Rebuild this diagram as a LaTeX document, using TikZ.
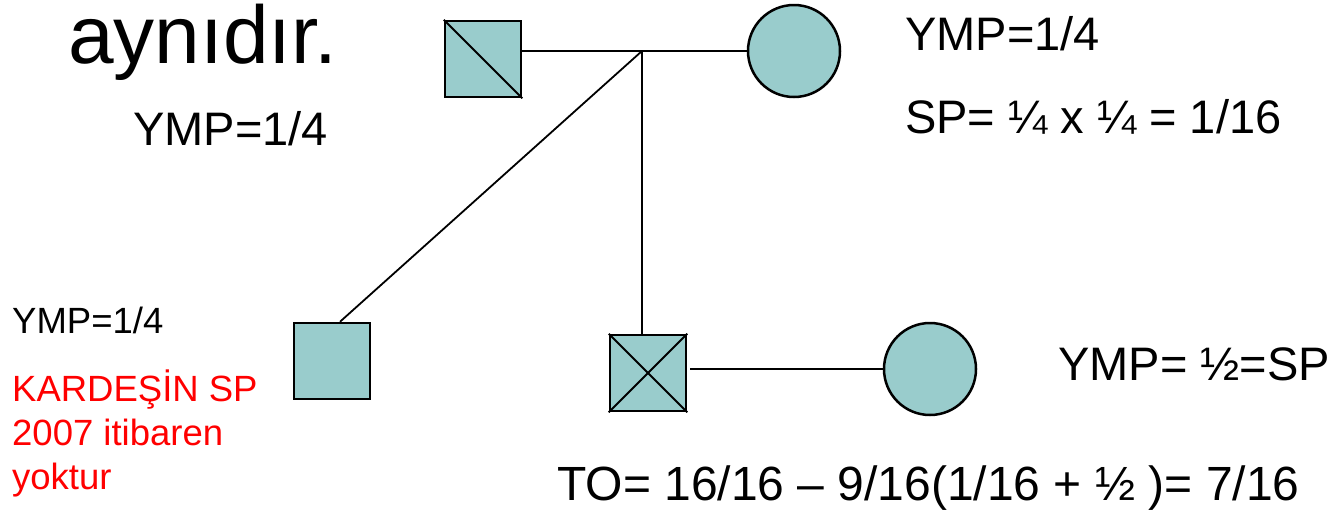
\documentclass[tikz,border=0pt]{standalone}
\usepackage{fontspec}
\setmainfont{Liberation Sans}
\usepackage{tikz}
\definecolor{pedfill}{RGB}{153,204,204}
\begin{document}
\begin{tikzpicture}[x=1pt,y=-1pt]
		\tikzstyle{male}=[draw,line width=2.5pt,rectangle,fill=pedfill,minimum size=76pt,inner sep=0pt]
		\tikzstyle{female}=[draw,line width=2.5pt,circle,fill=pedfill,minimum size=92pt,inner sep=0pt]
		\tikzstyle{big}=[anchor=base west,inner sep=0pt,font=\fontsize{47}{56}\selectfont]
		\tikzstyle{small}=[anchor=base west,inner sep=0pt,font=\fontsize{36.5}{44}\selectfont]
		\tikzstyle{link}=[line width=1.8pt]

		\useasboundingbox (0,0) rectangle (1333,515);

		% parents
		\node[male] (father) at (483,59) {};
		\node[female] (mother) at (794,51) {};
		\draw[line width=1.8pt] (father.north west) -- (father.south east);
		\coordinate (junc) at (642,51);

		% children
		\node[male] (sib) at (332,361) {};
		\node[male] (pat) at (648,373) {};
		\draw[line width=1.8pt] (pat.north west) -- (pat.south east);
		\draw[line width=1.8pt] (pat.south west) -- (pat.north east);
		\node[female] (spouse) at (930,369) {};

		\draw[link] (father.east |- junc) -- (mother.west);
		\draw[link] (junc) -- ([xshift=8pt]sib.north);
		\draw[link] (junc) -- (junc |- pat.north);
		\draw[link] ([xshift=3pt]pat.east |- spouse) -- (spouse.west);

		% texts
		\node[anchor=base west,inner sep=0pt,font=\fontsize{82}{90}\selectfont] (title) at (68,63) {aynıdır.};
		\node[big] (ympf) at (133,145) {YMP=1/4};
		\node[big] (ympm) at (905,50) {YMP=1/4};
		\node[big] (spm) at (905,133) {SP= ¼ x ¼ = 1/16};
		\node[small] (ymps) at (12,333) {YMP=1/4};
		\node[small,text=red,align=left,anchor=north west] (note) at (12,370) {KARDEŞİN SP\\2007 itibaren\\yoktur};
		\node[big] (ympsp) at (1058,380) {YMP= ½=SP};
		\node[big,font=\fontsize{48}{56}\selectfont] (to) at (557,500) {TO= 16/16 – 9/16(1/16 + ½ )= 7/16};

		\end{tikzpicture}
\end{document}
